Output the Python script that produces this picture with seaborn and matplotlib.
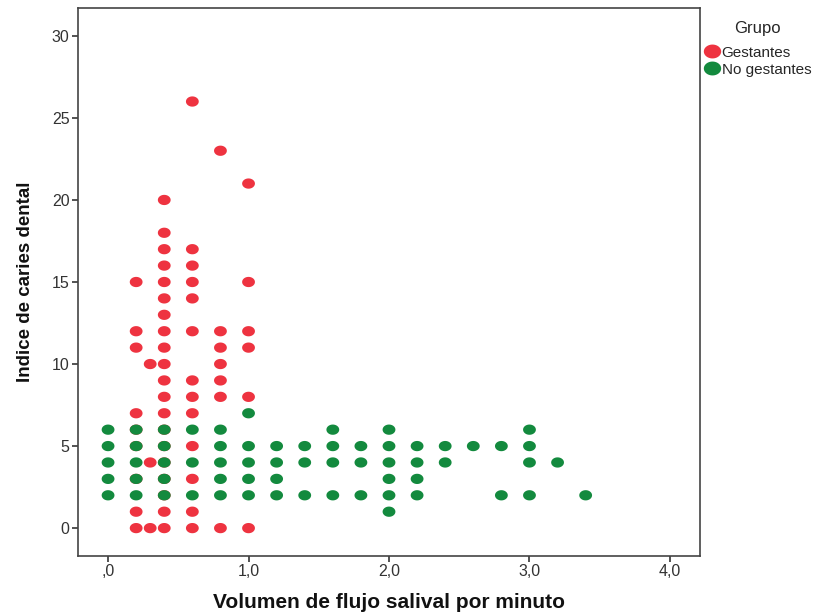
import numpy as np
import pandas as pd
import matplotlib
matplotlib.use("Agg")
import matplotlib.pyplot as plt
from matplotlib.path import Path
from matplotlib.lines import Line2D
import seaborn as sns

# Gestantes (red)
gest_x = [0.2]*9 + [0.3]*3 + [0.4]*20 + [0.6]*13 + [0.8]*7 + [1.0]*6
gest_y = ([15, 12, 11, 7, 6, 5, 3, 1, 0] +
          [10, 4, 0] +
          [20, 18, 17, 16, 15, 14, 13, 12, 11, 10, 9, 8, 7, 6, 5, 4, 3, 2, 1, 0] +
          [26, 17, 16, 15, 14, 12, 9, 8, 7, 5, 3, 1, 0] +
          [23, 12, 11, 10, 9, 8, 0] +
          [21, 15, 12, 11, 8, 0])

# No gestantes (green)
nog_x = ([0.0]*5 + [0.2]*5 + [0.4]*5 + [0.6]*3 + [0.8]*5 + [1.0]*5 +
         [1.2]*4 + [1.4]*3 + [1.6]*4 + [1.8]*3 + [2.0]*6 + [2.2]*4 +
         [2.4]*2 + [2.6] + [2.8]*2 + [3.0]*4 + [3.2] + [3.4])
nog_y = ([6, 5, 4, 3, 2] + [6, 5, 4, 3, 2] + [6, 5, 4, 3, 2] + [6, 4, 2] +
         [6, 5, 4, 3, 2] + [7, 5, 4, 3, 2] +
         [5, 4, 3, 2] + [5, 4, 2] + [6, 5, 4, 2] + [5, 4, 2] +
         [6, 5, 4, 3, 2, 1] + [5, 4, 3, 2] +
         [5, 4] + [5] + [5, 2] + [6, 5, 4, 2] + [4] + [2])

groups = ["Gestantes", "No gestantes"]
colors = ["#EE3340", "#138A3E"]
x_ticks = [0, 1, 2, 3, 4]
x_ticklabels = [",0", "1,0", "2,0", "3,0", "4,0"]
y_ticks = [0, 5, 10, 15, 20, 25, 30]

df = pd.DataFrame({
    "x": gest_x + nog_x,
    "y": gest_y + nog_y,
    "Grupo": [groups[0]]*len(gest_x) + [groups[1]]*len(nog_x),
})

sns.set_style("white")
plt.rcParams['font.family'] = ['Liberation Sans', 'DejaVu Sans']

fig = plt.figure(figsize=(8.22, 6.14), dpi=100)
ax = fig.add_axes([78/822, 1-556/614, 622/822, 548/614])

# ellipse marker (slightly wider than tall)
t = np.linspace(0, 2*np.pi, 60)
ell = Path(np.column_stack([1.25*np.cos(t), np.sin(t)]), closed=True)

sns.scatterplot(data=df, x="x", y="y", hue="Grupo", hue_order=groups,
                palette=colors, marker=ell, s=85, linewidth=0, ax=ax,
                legend=False)

ax.set_xlim(-0.214, 4.214)
ax.set_ylim(-1.7, 31.7)
ax.set_xticks(x_ticks)
ax.set_xticklabels(x_ticklabels)
ax.set_yticks(y_ticks)
for sp in ax.spines.values():
    sp.set_color("#444444")
    sp.set_linewidth(1.2)
    sp.set_visible(True)
ax.tick_params(axis="both", direction="out", length=4, width=1.3,
               color="#444444", labelsize=11.5, labelcolor="#333333", pad=2,
               left=True, bottom=True)

lab_font = dict(fontweight="bold", color="#111111")
ax.set_xlabel("Volumen de flujo salival por minuto", labelpad=10,
              fontsize=15, **lab_font)
ax.set_ylabel("Indice de caries dental", labelpad=13, fontsize=13.5, **lab_font)

handles = [Line2D([], [], marker=ell, linestyle="", markersize=12.5,
                  markerfacecolor=c, markeredgewidth=0) for c in colors]
leg = fig.legend(handles, groups, title="Grupo", loc="upper left",
                 bbox_to_anchor=(701/822, 1-18/614), frameon=False,
                 fontsize=11, title_fontsize=12, handletextpad=0.15,
                 handlelength=1.0, labelspacing=0.18, borderaxespad=0,
                 borderpad=0.2)
leg._legend_box.align = "center"
leg._legend_box.sep = 7

fig.savefig("out.png", dpi=100)
